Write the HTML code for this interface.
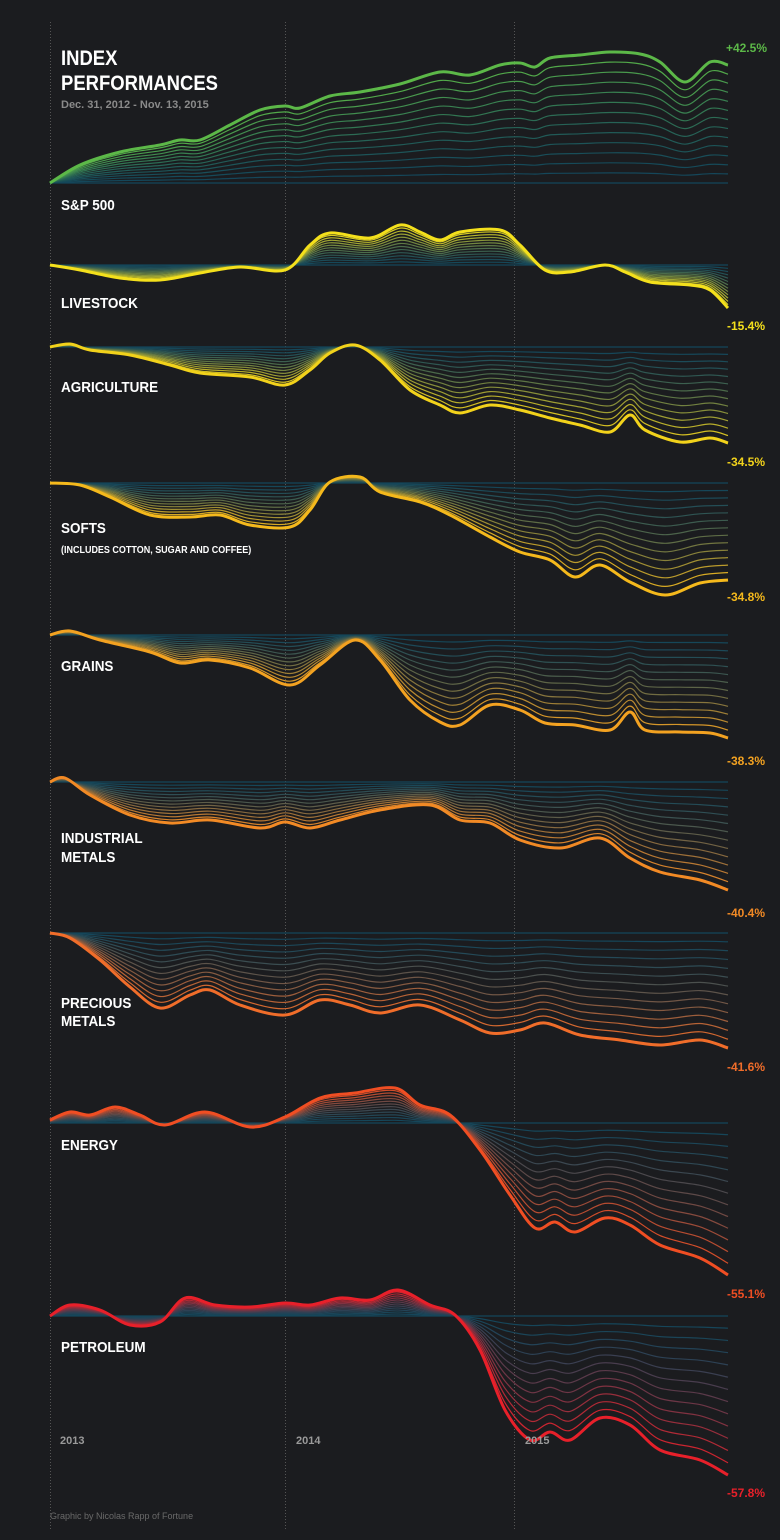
<!DOCTYPE html>
<html><head><meta charset="utf-8">
<style>
html,body{margin:0;padding:0;background:#1b1c1f;}
svg{display:block;}
text{font-family:"Liberation Sans",sans-serif;}
</style></head>
<body>
<svg id="s" width="780" height="1540" viewBox="0 0 780 1540" xmlns="http://www.w3.org/2000/svg">
<rect width="780" height="1540" fill="#1b1c1f"/>
<g stroke="#555" stroke-width="1" stroke-dasharray="1,2">
<line x1="50.5" y1="22" x2="50.5" y2="1530"/>
<line x1="285.5" y1="22" x2="285.5" y2="1530"/>
<line x1="514.5" y1="22" x2="514.5" y2="1530"/>
</g>
<g id="charts"></g>
<g fill="#fff" font-weight="bold">
<g transform="translate(61,0) scale(0.88,1) translate(-61,0)">
<text x="61" y="65" font-size="21">INDEX</text>
<text x="61" y="90" font-size="21">PERFORMANCES</text>
</g>
<text x="61" y="108" font-size="11" fill="#8a8a8a">Dec. 31, 2012 - Nov. 13, 2015</text>
<g font-size="15" transform="translate(61,0) scale(0.9,1) translate(-61,0)">
<text x="61" y="210">S&amp;P 500</text>
<text x="61" y="308">LIVESTOCK</text>
<text x="61" y="392">AGRICULTURE</text>
<text x="61" y="533">SOFTS</text>
<text x="61" y="553" font-size="10">(INCLUDES COTTON, SUGAR AND COFFEE)</text>
<text x="61" y="843">INDUSTRIAL</text>
<text x="61" y="671">GRAINS</text>
<text x="61" y="862">METALS</text>
<text x="61" y="1008">PRECIOUS</text>
<text x="61" y="1026">METALS</text>
<text x="61" y="1150">ENERGY</text>
<text x="61" y="1352">PETROLEUM</text>
</g>
<g font-size="11" fill="#9a9a9a">
<text x="60" y="1444">2013</text>
<text x="296" y="1444">2014</text>
<text x="525" y="1444">2015</text>
</g>
<text x="50" y="1519" font-size="9" fill="#6a6a6a" font-weight="normal">Graphic by Nicolas Rapp of Fortune</text>
<g font-size="12" text-anchor="end">
<text x="767" y="52" fill="#5cb848">+42.5%</text>
<text x="765" y="330" fill="#f4e01c">-15.4%</text>
<text x="765" y="466" fill="#f2d21b">-34.5%</text>
<text x="765" y="601" fill="#f5b91c">-34.8%</text>
<text x="765" y="765" fill="#f3a221">-38.3%</text>
<text x="765" y="917" fill="#f28a25">-40.4%</text>
<text x="765" y="1071" fill="#f06d2a">-41.6%</text>
<text x="765" y="1298" fill="#f04e23">-55.1%</text>
<text x="765" y="1497" fill="#e8202a">-57.8%</text>
</g>
</g>
</svg>
<script>
var D=[
[183,[92,184,72],[[50,183],[80,165],[120,152],[160,145],[180,140],[200,140],[230,125],[260,110],[285,106],[300,108],[330,96],[360,92],[400,84],[440,72],[470,75],[500,65],[520,63],[535,67],[550,58],[580,55],[610,52],[640,54],[660,62],[685,82],[710,62],[728,65]]],
[265,[244,224,28],[[50,265],[80,270],[120,278],[160,280],[200,273],[240,267],[285,270],[310,245],[330,233],[370,238],[400,225],[420,232],[440,240],[460,232],[500,230],[520,245],[545,270],[570,272],[605,265],[625,272],[650,282],[690,285],[710,290],[728,308]]],
[347,[242,210,27],[[50,347],[70,344],[90,350],[130,355],[170,365],[200,373],[250,377],[285,385],[310,370],[330,353],[355,345],[380,360],[410,390],[440,405],[460,413],[490,405],[520,410],[550,418],[580,425],[610,432],[630,415],[645,430],[680,442],[710,438],[728,443]]],
[483,[245,185,28],[[50,483],[80,485],[110,497],[150,515],[190,517],[220,515],[250,525],[290,527],[310,510],[330,482],[360,477],[380,492],[420,502],[450,515],[490,537],[520,552],[550,560],[575,577],[600,565],[630,582],[665,595],[700,583],[728,580]]],
[635,[243,162,33],[[50,635],[70,631],[100,640],[150,652],[180,663],[210,660],[250,668],[290,685],[320,665],[355,640],[380,660],[410,700],[440,722],[460,725],[490,705],[520,710],[545,723],[575,725],[610,730],[630,712],[645,730],[680,732],[710,733],[728,738]]],
[782,[242,138,37],[[50,782],[65,778],[90,795],[130,815],[170,823],[210,820],[260,828],[285,822],[310,828],[340,820],[380,810],[430,805],[460,820],[490,823],[520,840],[560,848],[600,838],[630,858],[660,872],[700,880],[728,890]]],
[933,[240,109,42],[[50,933],[70,938],[100,960],[130,987],[160,1008],[190,995],[210,990],[240,1005],[285,1015],[320,1000],[350,1005],[380,1013],[420,1005],[460,1020],[490,1033],[520,1030],[545,1023],[580,1035],[620,1040],[660,1045],[700,1040],[728,1048]]],
[1123,[240,78,35],[[50,1120],[70,1112],[90,1115],[115,1107],[140,1115],[165,1125],[205,1112],[250,1127],[285,1117],[320,1098],[355,1093],[395,1088],[420,1105],[450,1115],[480,1150],[510,1195],[535,1228],[555,1222],[575,1232],[605,1218],[630,1225],[660,1245],[700,1258],[728,1275]]],
[1316,[232,32,42],[[50,1316],[70,1305],[100,1310],[130,1325],[160,1322],[185,1298],[215,1305],[250,1307],[285,1303],[310,1305],[340,1298],[370,1300],[398,1290],[430,1305],[455,1315],[480,1350],[505,1410],[530,1440],[550,1432],[570,1440],[600,1418],[630,1425],[660,1450],[700,1460],[728,1475]]]
];
function path(p){var s="M"+p[0][0]+","+p[0][1].toFixed(1);
for(var i=0;i<p.length-1;i++){var a=p[i>0?i-1:0],b=p[i],c=p[i+1],d=p[i+2<p.length?i+2:i+1];
var c1x=b[0]+(c[0]-a[0])/6,c1y=b[1]+(c[1]-a[1])/6,c2x=c[0]-(d[0]-b[0])/6,c2y=c[1]-(d[1]-b[1])/6;
s+="C"+c1x.toFixed(1)+","+c1y.toFixed(1)+" "+c2x.toFixed(1)+","+c2y.toFixed(1)+" "+c[0]+","+c[1].toFixed(1);}
return s;}
var g=document.getElementById("charts"),h="",N=13,T=[20,70,90];
D.forEach(function(d){var b=d[0],col=d[1],pts=d[2];
for(var k=0;k<=N;k++){var t=k/N;
var p=pts.map(function(q){return [q[0],b+(q[1]-b)*t];});
var e=Math.pow(t,1.8);
var r=Math.round(T[0]+(col[0]-T[0])*e),gg=Math.round(T[1]+(col[1]-T[1])*e),bb=Math.round(T[2]+(col[2]-T[2])*e);
h+='<path d="'+path(p)+'" fill="none" stroke="rgb('+r+','+gg+','+bb+')" stroke-width="'+(k==N?3:1.2)+'"/>';}
});
g.innerHTML=h;
</script>
</body></html>
